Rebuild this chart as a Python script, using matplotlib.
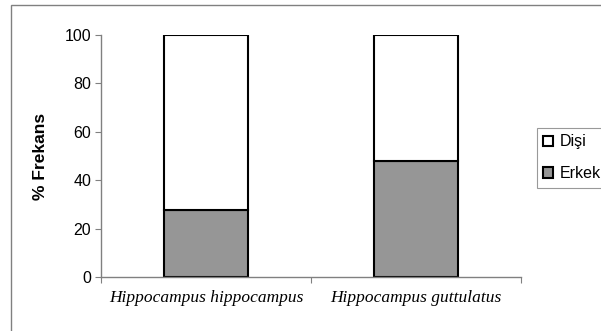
import matplotlib
matplotlib.use("Agg")
import matplotlib.pyplot as plt
import numpy as np
from matplotlib.patches import Rectangle

species = ["Hippocampus hippocampus", "Hippocampus guttulatus"]
erkek = [27.5, 48.0]
disi = [72.5, 52.0]
y_ticks = [0, 20, 40, 60, 80, 100]

fig = plt.figure(figsize=(6.01, 3.31), dpi=100)
W, H = 601, 331
# axes box in pixel coords: x 101..521, y 35..277
ax = fig.add_axes([101 / W, 1 - 277 / H, 420 / W, 242 / H])

x = np.arange(len(species))
ax.bar(x, erkek, width=0.4, color="#969696", edgecolor="black", linewidth=1.5, label="Erkek")
ax.bar(x, disi, width=0.4, bottom=erkek, color="white", edgecolor="black", linewidth=1.5, label="Dişi")

ax.set_xlim(-0.5, len(species) - 0.5)
ax.set_ylim(0, 100)
ax.set_yticks(y_ticks)
ax.set_yticklabels([str(v) for v in y_ticks], fontsize=11.5, family="Liberation Sans")
ax.set_xticks(x)
ax.set_xticklabels(species, fontsize=12.5, family="Liberation Serif", style="italic")
ax.tick_params(axis="x", length=0, pad=9)
ax.tick_params(axis="y", length=4, width=0.8, color="#808080", direction="out", pad=3)
# category boundary ticks
ax.set_xticks([-0.5, 0.5, 1.5], minor=True)
ax.tick_params(axis="x", which="minor", length=4, width=0.8, color="#808080", direction="out")

for side in ["top", "right"]:
    ax.spines[side].set_visible(False)
for side in ["left", "bottom"]:
    ax.spines[side].set_color("#808080")
    ax.spines[side].set_linewidth(1.0)

ax.set_ylabel("% Frekans", fontsize=12.5, fontweight="bold", family="Liberation Sans", labelpad=12)

handles, labels = ax.get_legend_handles_labels()
leg = fig.legend(handles[::-1], labels[::-1], loc="upper left",
                 bbox_to_anchor=(537 / W, 1 - 128 / H),
                 prop={"family": "Liberation Sans", "size": 11.5},
                 frameon=True, fancybox=False, edgecolor="#808080",
                 handlelength=0.6, handleheight=0.6, handletextpad=0.4,
                 borderpad=0.4, labelspacing=1.05, borderaxespad=0)
leg.get_frame().set_linewidth(0.8)

# outer chart frame
fig.patches.append(Rectangle((11 / W, -0.1), 1.0, 1 - 5 / H + 0.1, transform=fig.transFigure,
                             fill=False, edgecolor="#808080", linewidth=1.0))

fig.savefig("out.png", dpi=100)
